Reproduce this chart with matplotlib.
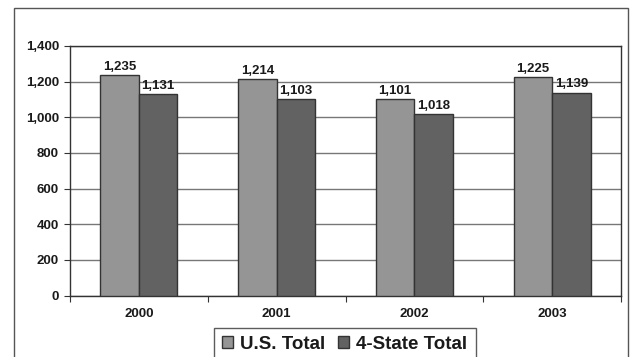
import matplotlib
matplotlib.use("Agg")
import matplotlib.pyplot as plt
from matplotlib.patches import Rectangle
from matplotlib.ticker import FuncFormatter
import numpy as np

years = ["2000", "2001", "2002", "2003"]
us_total = [1235, 1214, 1101, 1225]
four_state_total = [1131, 1103, 1018, 1139]
series_names = ["U.S. Total", "4-State Total"]
y_ticks = [0, 200, 400, 600, 800, 1000, 1200, 1400]

plt.rcParams["font.family"] = ["Liberation Sans", "DejaVu Sans"]
plt.rcParams["font.weight"] = "bold"

W, H = 631, 357
fig = plt.figure(figsize=(W / 100, H / 100), dpi=100)

# outer chart border
fig.patches.append(Rectangle((14 / W, -0.05), (628 - 14) / W, 1.05 - 8 / H,
                             transform=fig.transFigure, fill=False,
                             edgecolor="#555555", linewidth=1.0))

ax = fig.add_axes([70 / W, 1 - 295.5 / H, (621 - 70) / W, (295.5 - 46) / H])

x = np.arange(len(years))
bw = 0.28
text_col = "#1a1a1a"
label_size = 9.5
b1 = ax.bar(x - bw / 2, us_total, bw, color="#959595", edgecolor="#333333",
            linewidth=1.0, label=series_names[0], zorder=3)
b2 = ax.bar(x + bw / 2, four_state_total, bw, color="#626262", edgecolor="#333333",
            linewidth=1.0, label=series_names[1], zorder=3)

for bars, vals in ((b1, us_total), (b2, four_state_total)):
    for rect, v in zip(bars, vals):
        ax.annotate(f"{v:,}", (rect.get_x() + rect.get_width() / 2, v),
                    xytext=(0, 1.5), textcoords="offset points",
                    ha="center", va="bottom", fontsize=label_size,
                    fontweight="bold", color=text_col, zorder=4)

ax.set_ylim(0, 1400)
ax.set_xlim(-0.5, len(years) - 0.5)
ax.set_yticks(y_ticks)
ax.yaxis.set_major_formatter(FuncFormatter(lambda v, p: f"{int(v):,}"))
ax.grid(axis="y", color="#777777", linewidth=1.0, zorder=0)

ax.set_xticks(np.arange(-0.5, len(years), 1.0))
ax.set_xticklabels([])
ax.set_xticks(x, minor=True)
ax.set_xticklabels(years, minor=True)
ax.tick_params(axis="x", which="major", length=4, direction="out", color="#333333")
ax.tick_params(axis="x", which="minor", length=0, pad=9, labelsize=label_size,
               labelcolor=text_col)
ax.tick_params(axis="y", length=4, direction="out", color="#333333",
               labelsize=label_size, labelcolor=text_col, pad=4)
for lab in ax.get_xticklabels(minor=True) + ax.get_yticklabels():
    lab.set_fontweight("bold")

for s in ax.spines.values():
    s.set_color("#333333")
    s.set_linewidth(1.0)

leg = fig.legend(handles=[b1, b2], loc="upper center",
                 bbox_to_anchor=(344.5 / W, 1 - 327.5 / H), ncol=2,
                 frameon=True, fancybox=False, edgecolor="#333333",
                 prop={"size": 13.5, "weight": "bold"}, handlelength=0.6,
                 handleheight=0.6, handletextpad=0.35, columnspacing=0.7,
                 borderpad=0.45, borderaxespad=0)
leg.get_frame().set_linewidth(1.0)
for t in leg.get_texts():
    t.set_color(text_col)

fig.savefig("out.png", dpi=100)
